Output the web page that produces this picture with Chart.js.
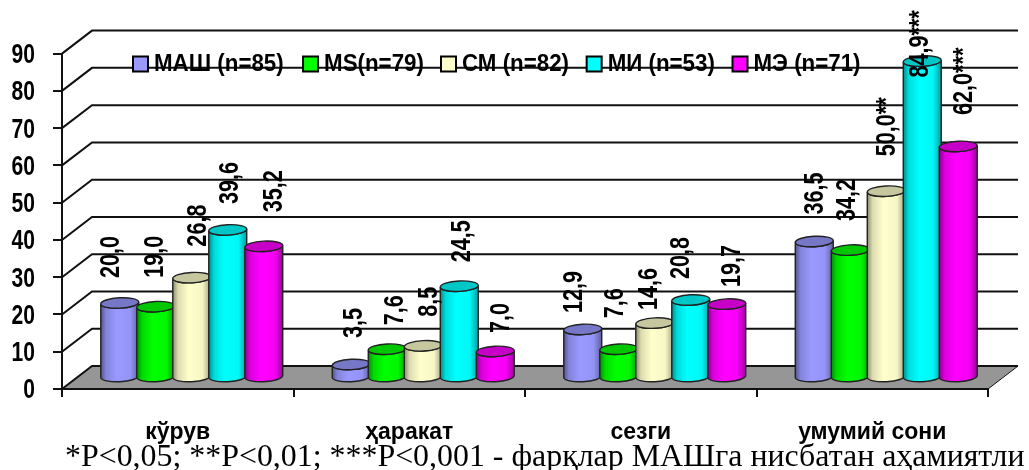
<!DOCTYPE html>
<html><head><meta charset="utf-8">
<script src="https://cdn.jsdelivr.net/npm/chart.js@4"></script>
<style>html,body{margin:0;padding:0;background:#fff}canvas{display:block}</style>
</head><body><canvas id="c" width="1029" height="470"></canvas>
<script>
const categories = ["кўрув","ҳаракат","сезги","умумий сони"];
const seriesNames = ["МАШ (n=85)","MS(n=79)","СМ (n=82)","МИ (n=53)","МЭ (n=71)"];
const mash = [20.0,3.5,12.9,36.5];
const ms   = [19.0,7.6,7.6,34.2];
const sm   = [26.8,8.5,14.6,50.0];
const mi   = [39.6,24.5,20.8,84.9];
const me   = [35.2,7.0,19.7,62.0];
const stars = [["","","",""],["","","",""],["","","","**"],["","","","***"],["","","","***"]];
const colors = ["#9999FF","#00FF00","#FFFFCC","#00FFFF","#FF00FF"];
const footnote = "*P<0,05; **P<0,01; ***P<0,001 - фарқлар МАШга нисбатан аҳамиятли";

// hand placement of the rotated value labels, relative to each bar top
const labelDx = [[-10,1,-10,-1],[-2.5,6,-5.5,-5],[4.5,4,-7.5,-1],[0.5,1,-11.5,-4],[8.5,4,3.5,4]];
const labelGap = [[25,26.5,16.5,27],[29,24,31,29],[31,29,13,35],[26,24,21,-16.5],[34,18.5,17,31.5]];

const DEPTH_X = 30, DEPTH_Y = 23, BAR_DX = 14, BAR_DY = 11.5;
const INK = "#111";

function shade(hex,f){
  const n=parseInt(hex.slice(1),16);
  return `rgb(${Math.round((n>>16&255)*f)},${Math.round((n>>8&255)*f)},${Math.round((n&255)*f)})`;
}

// draw a box's text condensed horizontally, as in the reference
function condense(box,method,sx,dx,dy){
  const orig=box[method];
  box[method]=function(...a){
    const ctx=this.ctx, ft=ctx.fillText;
    ctx.fillText=function(s,x,y){
      ctx.save();ctx.translate(x+dx,y+dy);ctx.scale(sx,1);ft.call(ctx,s,0,0);ctx.restore();
    };
    orig.apply(this,a);
    delete ctx.fillText;
  };
  box[method].patched=true;
}

const scene = {
  id:"scene",
  afterLayout(chart){
    const lg=chart.legend; const p=lg.options.labels.padding;
    lg.left=133-p; lg.right=1029; lg.top=64-12-p; lg.bottom=lg.top+lg.height;
    const t=chart.titleBlock;
    t.left=65; t.right=1029; t.top=447.5; t.bottom=468.5;
    if(!chart.scales.y.drawLabels.patched) condense(chart.scales.y,"drawLabels",.78,0,2);
    if(!lg.draw.patched) condense(lg,"draw",.93,-6,0);
  },
  beforeDraw(chart){
    const {ctx}=chart, y=chart.scales.y, x=chart.scales.x;
    const L=x.left,R=x.right,Y0=y.getPixelForValue(0);
    ctx.save();
    ctx.beginPath();
    ctx.moveTo(L,Y0);ctx.lineTo(L+DEPTH_X,Y0-DEPTH_Y);ctx.lineTo(R+DEPTH_X,Y0-DEPTH_Y);ctx.lineTo(R,Y0);ctx.closePath();
    ctx.fillStyle="#969696";ctx.fill();
    ctx.strokeStyle=INK;ctx.lineWidth=1;
    ctx.beginPath();ctx.moveTo(R,Y0);ctx.lineTo(R+DEPTH_X,Y0-DEPTH_Y);ctx.stroke();
    ctx.lineWidth=2;
    y.ticks.forEach(t=>{
      const py=y.getPixelForValue(t.value);
      ctx.beginPath();ctx.moveTo(L,py);ctx.lineTo(L+DEPTH_X,py-DEPTH_Y);ctx.lineTo(R+DEPTH_X,py-DEPTH_Y);ctx.stroke();
    });
    ctx.restore();
  },
  beforeDatasetDraw(){ return false; },
  beforeDatasetsDraw(chart){
    const {ctx}=chart;
    const tilt=-0.05;
    chart.data.datasets.forEach((ds,di)=>{
      const col=ds.backgroundColor;
      chart.getDatasetMeta(di).data.forEach(el=>{
        const r=el.width/2+1, ry=5.2;
        const cx=el.x+BAR_DX, top=el.y-BAR_DY, bot=el.base-BAR_DY;
        const g=ctx.createLinearGradient(cx-r,0,cx+r,0);
        g.addColorStop(0,shade(col,.55));
        g.addColorStop(.14,shade(col,.86));
        g.addColorStop(.42,shade(col,1));
        g.addColorStop(.78,shade(col,.97));
        g.addColorStop(1,shade(col,.62));
        ctx.save();
        ctx.beginPath();
        ctx.ellipse(cx,top,r,ry,tilt,Math.PI,0,true);
        ctx.ellipse(cx,bot,r,ry,tilt,0,Math.PI,false);
        ctx.closePath();
        ctx.fillStyle=g;ctx.fill();
        ctx.strokeStyle="#222";ctx.lineWidth=1.4;ctx.stroke();
        ctx.beginPath();
        ctx.ellipse(cx,top,r,ry,tilt,0,Math.PI*2);
        ctx.fillStyle=shade(col,.78);ctx.fill();ctx.stroke();
        ctx.restore();
      });
    });
  },
  afterDatasetsDraw(chart){
    const {ctx}=chart;
    ctx.save();
    ctx.fillStyle="#000";
    ctx.font='bold 27px "Liberation Sans"';
    ctx.textAlign="left";ctx.textBaseline="middle";
    chart.data.datasets.forEach((ds,di)=>{
      chart.getDatasetMeta(di).data.forEach((el,i)=>{
        const txt=ds.data[i].toFixed(1).replace(".",",")+stars[di][i];
        ctx.save();
        ctx.translate(el.x+BAR_DX+labelDx[di][i]+2, el.y-BAR_DY-labelGap[di][i]);
        ctx.rotate(-Math.PI/2);
        ctx.scale(.8,1);
        ctx.fillText(txt,0,0);
        ctx.restore();
      });
    });
    ctx.restore();
  }
};

new Chart(document.getElementById("c"),{
  type:"bar",
  data:{
    labels:categories,
    datasets:[mash,ms,sm,mi,me].map((d,i)=>({
      label:seriesNames[i],data:d,backgroundColor:colors[i],borderColor:"#000",borderWidth:2,
      barPercentage:1,categoryPercentage:0.7775
    }))
  },
  options:{
    responsive:false,animation:false,devicePixelRatio:1,
    layout:{padding:{left:0,right:41,top:16,bottom:0}},
    plugins:{
      tooltip:{enabled:false},
      legend:{display:true,position:"top",align:"start",
        labels:{boxWidth:15,boxHeight:15,padding:3.6,color:"#000",
          font:{family:'"Liberation Sans"',size:24,weight:"bold"}}},
      title:{display:true,text:footnote,position:"bottom",align:"start",color:"#000",
        padding:0,font:{family:'"Liberation Serif"',size:31.9,weight:"normal",lineHeight:0.658}}
    },
    scales:{
      x:{
        afterFit(s){s.height=60;},
        grid:{color:INK,lineWidth:2,drawOnChartArea:false,tickLength:8},
        border:{color:INK,width:2},
        ticks:{color:"#000",padding:22,maxRotation:0,autoSkip:false,
          font:{family:'"Liberation Sans"',size:23,weight:"bold"}}
      },
      y:{
        min:0,max:90,
        afterFit(s){s.width=62;},
        grid:{color:INK,lineWidth:2,drawOnChartArea:false,tickLength:9},
        border:{color:INK,width:2},
        ticks:{stepSize:10,color:"#000",padding:18,
          font:{family:'"Liberation Sans"',size:27,weight:"bold"}}
      }
    }
  },
  plugins:[scene]
});
</script></body></html>
